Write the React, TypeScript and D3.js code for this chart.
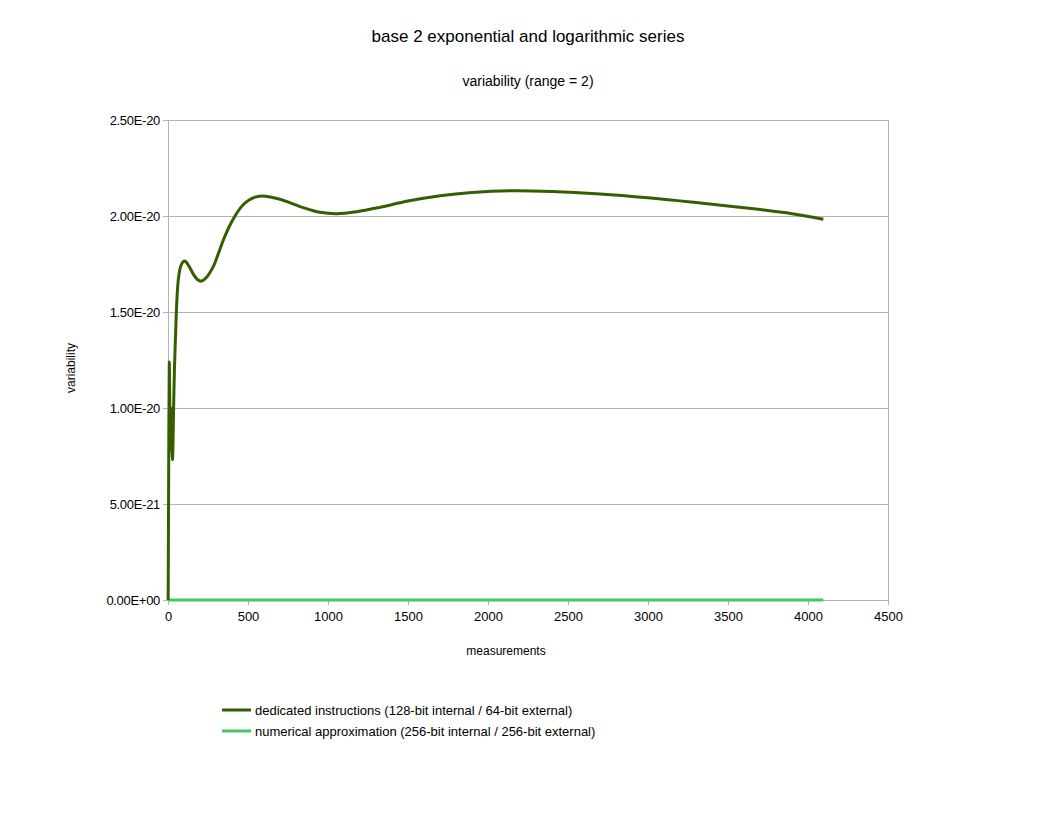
import { useEffect, useRef } from 'react'
import * as d3 from 'd3'

// measurement index -> variability
const dedicatedX = [1, 4, 8, 12, 16, 20, 24, 28, 34, 40, 48, 56, 66, 80, 95, 106, 130, 160, 185, 210, 245, 283, 315, 346, 380, 419, 455, 492, 540, 585, 640, 700, 760, 825, 890, 950, 1054, 1179, 1325, 1500, 1700, 1900, 2150, 2400, 2700, 3000, 3300, 3600, 3900, 4096]
const dedicatedY = [0, 0.6e-20, 1.24e-20, 0.95e-20, 0.78e-20, 1.0e-20, 0.82e-20, 0.73e-20, 0.95e-20, 1.2e-20, 1.4e-20, 1.57e-20, 1.68e-20, 1.74e-20, 1.762e-20, 1.766e-20, 1.74e-20, 1.695e-20, 1.668e-20, 1.661e-20, 1.685e-20, 1.736e-20, 1.805e-20, 1.875e-20, 1.94e-20, 2.0e-20, 2.045e-20, 2.075e-20, 2.097e-20, 2.104e-20, 2.099e-20, 2.087e-20, 2.07e-20, 2.049e-20, 2.032e-20, 2.019e-20, 2.012e-20, 2.022e-20, 2.045e-20, 2.078e-20, 2.106e-20, 2.123e-20, 2.132e-20, 2.128e-20, 2.115e-20, 2.095e-20, 2.07e-20, 2.043e-20, 2.012e-20, 1.983e-20]
const approxX = [1, 4096]
const approxY = [0, 0]

const xTicks = [0, 500, 1000, 1500, 2000, 2500, 3000, 3500, 4000, 4500]
const yTicks = [0, 0.5e-20, 1e-20, 1.5e-20, 2e-20, 2.5e-20]
const yTickLabels = ['0.00E+00', '5.00E-21', '1.00E-20', '1.50E-20', '2.00E-20', '2.50E-20']

const seriesNames = ['dedicated instructions (128-bit internal / 64-bit external)', 'numerical approximation (256-bit internal / 256-bit external)']
const seriesColors = ['#355e00', '#3fc968']

export default function App() {
  const ref = useRef<SVGSVGElement>(null)

  useEffect(() => {
    const svg = d3.select(ref.current!)
    svg.selectAll('*').remove()
    const W = 1056, H = 816
    const m = { l: 168, t: 120, r: 888, b: 600 }
    const x = d3.scaleLinear().domain([0, 4500]).range([m.l, m.r])
    const y = d3.scaleLinear().domain([0, 2.5e-20]).range([m.b, m.t])
    const font = 'Liberation Sans, Arial, sans-serif'

    svg.append('rect').attr('width', W).attr('height', H).attr('fill', '#fff')

    // grid
    svg.append('g').selectAll('line').data(yTicks).enter().append('line')
      .attr('x1', m.l).attr('x2', m.r).attr('y1', d => y(d)).attr('y2', d => y(d))
      .attr('stroke', '#b3b3b3').attr('shape-rendering', 'crispEdges')
    svg.append('line').attr('x1', m.r).attr('x2', m.r).attr('y1', m.t).attr('y2', m.b)
      .attr('stroke', '#b3b3b3').attr('shape-rendering', 'crispEdges')

    const xa = svg.append('g').attr('transform', `translate(0,${m.b})`)
      .call(d3.axisBottom(x).tickValues(xTicks).tickSize(5).tickSizeOuter(0).tickFormat(d3.format('d')))
    xa.select('.domain').attr('stroke', '#b3b3b3')
    xa.selectAll('.tick line').attr('stroke', '#b3b3b3')
    xa.selectAll('text').attr('fill', '#000').attr('font-size', 13).attr('font-family', font).attr('dy', '1em')

    const ya = svg.append('g').attr('transform', `translate(${m.l},0)`)
      .call(d3.axisLeft(y).tickValues(yTicks).tickSize(5).tickSizeOuter(0).tickFormat((_, i) => yTickLabels[i]))
    ya.select('.domain').attr('stroke', '#b3b3b3')
    ya.selectAll('.tick line').attr('stroke', '#b3b3b3')
    ya.selectAll('text').attr('fill', '#000').attr('font-size', 13).attr('font-family', font).attr('x', -8).attr('letter-spacing', '-0.3')

    const line = d3.line<[number, number]>().x(d => x(d[0])).y(d => y(d[1])).curve(d3.curveMonotoneX)
    svg.append('path').datum(approxX.map((v, i) => [v, approxY[i]] as [number, number]))
      .attr('d', line).attr('fill', 'none').attr('stroke', seriesColors[1]).attr('stroke-width', 3)
    svg.append('path').datum(dedicatedX.map((v, i) => [v, dedicatedY[i]] as [number, number]))
      .attr('d', d3.line<[number, number]>().x(d => x(d[0])).y(d => y(d[1])).curve(d3.curveCatmullRom))
      .attr('fill', 'none').attr('stroke', seriesColors[0]).attr('stroke-width', 3).attr('stroke-linejoin', 'round')

    svg.append('text').attr('x', 528).attr('y', 42).attr('text-anchor', 'middle').attr('font-family', font).attr('font-size', 17).text('base 2 exponential and logarithmic series')
    svg.append('text').attr('x', 528).attr('y', 86).attr('text-anchor', 'middle').attr('font-family', font).attr('font-size', 14).text('variability (range = 2)')
    svg.append('text').attr('x', 506).attr('y', 655).attr('text-anchor', 'middle').attr('font-family', font).attr('font-size', 12).text('measurements')
    svg.append('text').attr('transform', 'translate(75,368) rotate(-90)').attr('text-anchor', 'middle').attr('font-family', font).attr('font-size', 12).text('variability')

    const lg = svg.append('g')
    seriesNames.forEach((n, i) => {
      const ly = 710 + i * 21
      lg.append('line').attr('x1', 222).attr('x2', 251).attr('y1', ly).attr('y2', ly).attr('stroke', seriesColors[i]).attr('stroke-width', 3)
      lg.append('text').attr('x', 255).attr('y', ly + 4.5).attr('font-family', font).attr('font-size', 13).text(n)
    })
  }, [])

  return <svg ref={ref} width={1056} height={816} style={{ display: 'block', margin: -8 }} />
}
